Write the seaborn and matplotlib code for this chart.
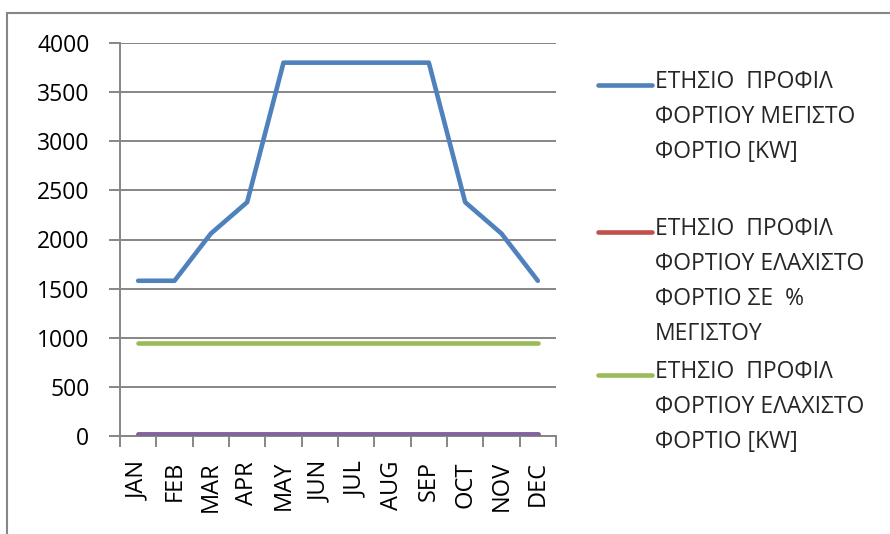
import pandas as pd
import matplotlib.pyplot as plt
import seaborn as sns
from matplotlib.lines import Line2D
from matplotlib.patches import Rectangle

months = ['JAN', 'FEB', 'MAR', 'APR', 'MAY', 'JUN', 'JUL', 'AUG', 'SEP', 'OCT', 'NOV', 'DEC']
max_load = [1580, 1580, 2060, 2380, 3800, 3800, 3800, 3800, 3800, 2380, 2060, 1580]
min_pct = [25, 25, 25, 25, 25, 25, 25, 25, 25, 25, 25, 25]
min_load = [950, 950, 950, 950, 950, 950, 950, 950, 950, 950, 950, 950]
extra = [20, 20, 20, 20, 20, 20, 20, 20, 20, 20, 20, 20]

labels = ['ΕΤΗΣΙΟ  ΠΡΟΦΙΛ\nΦΟΡΤΙΟΥ ΜΕΓΙΣΤΟ\nΦΟΡΤΙΟ [KW]',
          'ΕΤΗΣΙΟ  ΠΡΟΦΙΛ\nΦΟΡΤΙΟΥ ΕΛΑΧΙΣΤΟ\nΦΟΡΤΙΟ ΣΕ  %\nΜΕΓΙΣΤΟΥ',
          'ΕΤΗΣΙΟ  ΠΡΟΦΙΛ\nΦΟΡΤΙΟΥ ΕΛΑΧΙΣΤΟ\nΦΟΡΤΙΟ [KW]']
colors = ['#4F81BD', '#C0504D', '#9BBB59', '#8064A2']

sns.set_theme(style='white')
plt.rcParams['font.family'] = ['Open Sans', 'DejaVu Sans']

df = pd.DataFrame({'month': months, 'max': max_load, 'pct': min_pct,
                   'min': min_load, 'extra': extra})

fig = plt.figure(figsize=(8.9, 5.34), dpi=100)
ax = fig.add_axes([120 / 890, 1 - 436 / 534, 436 / 890, 393 / 534])

for col, c in zip(['max', 'pct', 'min', 'extra'], colors):
    sns.lineplot(data=df, x='month', y=col, color=c, linewidth=3.3, ax=ax,
                 solid_capstyle='round', solid_joinstyle='round', zorder=3)

grid = '#868686'
ax.set_xlim(-0.5, 11.5)
ax.set_ylim(0, 4000)
ax.set_yticks(range(0, 4001, 500))
ax.yaxis.grid(True, color=grid, linewidth=1.4)
ax.set_axisbelow(True)
ax.set_xlabel('')
ax.set_ylabel('')
for s in ['top', 'right']:
    ax.spines[s].set_visible(False)
for s in ['left', 'bottom']:
    ax.spines[s].set_color(grid)
    ax.spines[s].set_linewidth(1.4)

ax.set_xticks(range(12))
ax.set_xticklabels(months, rotation=90, fontsize=17)
ax.set_xticks([i - 0.5 for i in range(13)], minor=True)
ax.tick_params(axis='x', which='major', length=0, pad=18)
ax.tick_params(axis='x', which='minor', length=8, width=1.4, direction='out')
ax.tick_params(axis='y', length=8, width=1.4, direction='out', pad=14, labelsize=16.5)
ax.tick_params(axis='both', which='both', color=grid, labelcolor='black')
ax.yaxis.set_ticks_position('left')
ax.xaxis.set_ticks_position('bottom')

# legend drawn by hand so the line sits on the first text line
tops = [85, 232, 375]
for lab, c, y in zip(labels, colors[:3], tops):
    fy = 1 - y / 534
    fig.add_artist(Line2D([598 / 890, 652 / 890], [fy, fy], color=c, linewidth=3.3,
                          solid_capstyle='round', transform=fig.transFigure))
    fig.text(655 / 890, 1 - (y - 15) / 534, lab, fontsize=16.5, va='top', ha='left',
             linespacing=1.62)

fig.add_artist(Rectangle((7 / 890, -0.1), 1.2, 1.1 - 13 / 534, fill=False,
                         edgecolor=grid, linewidth=1.5, transform=fig.transFigure))

plt.savefig('out.png', dpi=100)
plt.close()
